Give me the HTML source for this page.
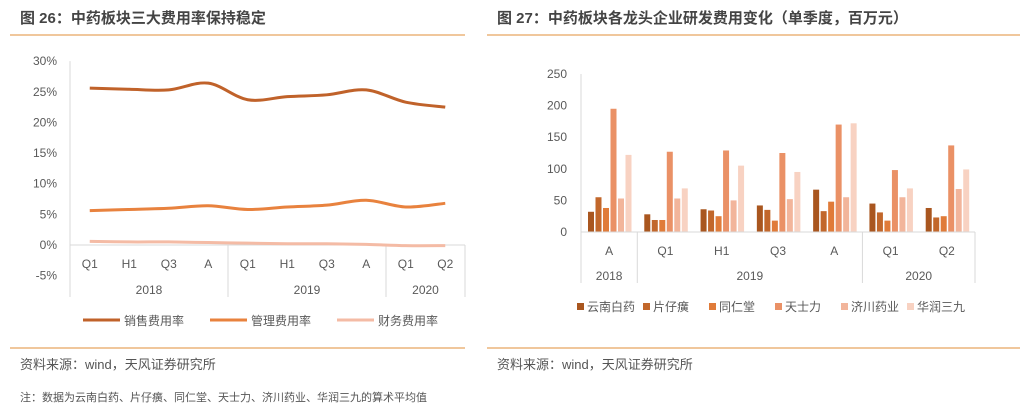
<!DOCTYPE html>
<html><head><meta charset="utf-8"><style>
body{margin:0;background:#fff;width:1028px;height:412px;overflow:hidden}
svg{font-family:"Liberation Sans","Noto Sans CJK SC",sans-serif}
</style></head><body>
<svg id="s" width="1028" height="412" xmlns="http://www.w3.org/2000/svg">
<text x="20" y="23" font-size="15" font-weight="bold" fill="#444">图 26：中药板块三大费用率保持稳定</text>
<rect x="10" y="34" width="455" height="2" fill="#f0c79c"/>
<text x="497" y="23" font-size="15" font-weight="bold" fill="#444">图 27：中药板块各龙头企业研发费用变化（单季度，百万元）</text>
<rect x="487" y="34" width="533" height="2" fill="#f0c79c"/>
<rect x="10" y="347" width="455" height="2" fill="#f0c79c"/>
<rect x="487" y="347" width="533" height="2" fill="#f0c79c"/>
<text x="20" y="369" font-size="13" fill="#555">资料来源：wind，天风证券研究所</text>
<text x="497" y="369" font-size="13" fill="#555">资料来源：wind，天风证券研究所</text>
<text x="20" y="401" font-size="11" fill="#555">注：数据为云南白药、片仔癀、同仁堂、天士力、济川药业、华润三九的算术平均值</text>
<g id="L"></g><g id="R"></g>
</svg>
<script>
const lineCats=["Q1","H1","Q3","A","Q1","H1","Q3","A","Q1","Q2"];
const lineYears=["2018","2019","2020"];
const lineYearSpans=[4,4,2];
const salesRate=[25.6,25.4,25.3,26.4,23.7,24.2,24.5,25.3,23.3,22.5];
const mgmtRate=[5.6,5.8,6.0,6.4,5.8,6.2,6.5,7.3,6.2,6.8];
const finRate=[0.6,0.5,0.5,0.4,0.3,0.2,0.2,0.1,-0.1,-0.1];
const lineTicks=[-5,0,5,10,15,20,25,30];
const lineNames=["销售费用率","管理费用率","财务费用率"];

const barCats=["A","Q1","H1","Q3","A","Q1","Q2"];
const barYears=["2018","2019","2020"];
const barYearSpans=[1,4,2];
const yunnan=[32,28,36,42,67,45,38];
const pianzai=[55,19,34,35,33,31,23];
const tongren=[38,19,25,18,48,18,25];
const tianshili=[195,127,129,125,170,98,137];
const jichuan=[53,53,50,52,55,55,68];
const huarun=[122,69,105,95,172,69,99];
const barTicks=[0,50,100,150,200,250];
const barNames=["云南白药","片仔癀","同仁堂","天士力","济川药业","华润三九"];

const NS="http://www.w3.org/2000/svg";
function mk(p,t,a,txt){const e=document.createElementNS(NS,t);for(const k in a)e.setAttribute(k,a[k]);if(txt!==undefined)e.textContent=txt;p.appendChild(e);return e;}
const L=document.getElementById('L'),R=document.getElementById('R');

// Left chart
const lx0=70,lx1=465,ly=v=>245-v*6.13;
const lbw=(lx1-lx0)/lineCats.length,lx=i=>lx0+lbw*(i+0.5);
lineTicks.forEach(t=>{const e=mk(L,'text',{x:57,y:ly(t)+4,'font-size':12,fill:'#595959','text-anchor':'end'},t+'%');

});
mk(L,'line',{x1:lx0,y1:ly(30),x2:lx0,y2:297,stroke:'#d9d9d9'});
mk(L,'line',{x1:lx0,y1:ly(0),x2:lx1,y2:ly(0),stroke:'#d9d9d9'});
lineCats.forEach((c,i)=>{const e=mk(L,'text',{x:lx(i),y:268,'font-size':12,fill:'#595959','text-anchor':'middle'},c);

});
let acc=0;lineYears.forEach((y,k)=>{const a=lx0+acc*lbw;acc+=lineYearSpans[k];const b=lx0+acc*lbw;
mk(L,'line',{x1:b,y1:ly(0),x2:b,y2:297,stroke:'#d9d9d9'});
const e=mk(L,'text',{x:(a+b)/2,y:294,'font-size':12,fill:'#595959','text-anchor':'middle'},y);

});
function smooth(pts){let d=`M${pts[0][0]},${pts[0][1]}`;for(let i=0;i<pts.length-1;i++){const p0=pts[i-1]||pts[i],p1=pts[i],p2=pts[i+1],p3=pts[i+2]||p2;
d+=` C${p1[0]+(p2[0]-p0[0])/6},${p1[1]+(p2[1]-p0[1])/6} ${p2[0]-(p3[0]-p1[0])/6},${p2[1]-(p3[1]-p1[1])/6} ${p2[0]},${p2[1]}`;}return d;}
const lcol=["#c0622a","#e8823e","#f4bba5"];
[salesRate,mgmtRate,finRate].forEach((s,k)=>{const e=mk(L,'path',{d:smooth(s.map((v,i)=>[lx(i),ly(v)])),fill:'none',stroke:lcol[k],'stroke-width':3});


const lg=mk(L,'line',{x1:83+k*127,y1:320,x2:120+k*127,y2:320,stroke:lcol[k],'stroke-width':3});


const t=mk(L,'text',{x:124+k*127,y:325,'font-size':12,fill:'#595959'},lineNames[k]);

});

// Right chart
const rx0=581,rx1=975,ry=v=>232-v*0.632;
const rbw=(rx1-rx0)/barCats.length;
barTicks.forEach(t=>{const e=mk(R,'text',{x:567,y:ry(t)+4,'font-size':12,fill:'#595959','text-anchor':'end'},t);

});
mk(R,'line',{x1:rx0,y1:ry(250),x2:rx0,y2:283,stroke:'#d9d9d9'});
const bcol=["#a9561f","#c2672b","#e07b39","#ea9166","#f2b59b","#f8d2c2"];
[yunnan,pianzai,tongren,tianshili,jichuan,huarun].forEach((s,k)=>{s.forEach((v,i)=>{const x=rx0+rbw*i+7+k*7.5;
const e=mk(R,'rect',{x:x,y:ry(v),width:6,height:ry(0)-ry(v),fill:bcol[k]});

});
const lx=577+k*66;
const sw=mk(R,'rect',{x:lx,y:303,width:7,height:7,fill:bcol[k]});


const t=mk(R,'text',{x:lx+10,y:311,'font-size':12,fill:'#595959'},barNames[k]);

});
mk(R,'line',{x1:rx0,y1:ry(0),x2:rx1,y2:ry(0),stroke:'#d9d9d9'});
barCats.forEach((c,i)=>{const e=mk(R,'text',{x:rx0+rbw*(i+0.5),y:255,'font-size':12,fill:'#595959','text-anchor':'middle'},c);

});
acc=0;barYears.forEach((y,k)=>{const a=rx0+acc*rbw;acc+=barYearSpans[k];const b=rx0+acc*rbw;
mk(R,'line',{x1:b,y1:ry(0),x2:b,y2:283,stroke:'#d9d9d9'});
const e=mk(R,'text',{x:(a+b)/2,y:280,'font-size':12,fill:'#595959','text-anchor':'middle'},y);

});
</script>
</body></html>
